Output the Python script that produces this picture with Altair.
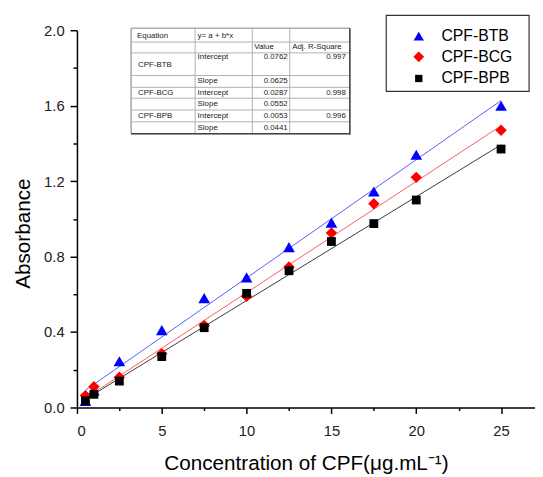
import altair as alt
import pandas as pd

# ---------------- data ----------------
conc = [0.5, 1, 2.5, 5, 7.5, 10, 12.5, 15, 17.5, 20, 25]
btb = [0.035, 0.09, 0.245, 0.41, 0.58, 0.69, 0.85, 0.98, 1.145, 1.34, 1.60]
bcg = [0.063, 0.11, 0.16, 0.285, 0.435, 0.59, 0.745, 0.925, 1.08, 1.22, 1.47]
bpb = [0.036, 0.07, 0.14, 0.27, 0.423, 0.605, 0.725, 0.88, 0.975, 1.10, 1.37]

series = ["CPF-BTB", "CPF-BCG", "CPF-BPB"]
colors = ["#0000ff", "#ff0000", "#000000"]
line_colors = ["#5a5aff", "#ff5a5a", "#3a3a3a"]
shapes = ["triangle-up", "diamond", "square"]
sizes = [140, 135, 80]

x_ticks = [0, 2.5, 5, 7.5, 10, 12.5, 15, 17.5, 20, 22.5, 25]
y_ticks = [0.0, 0.2, 0.4, 0.6, 0.8, 1.0, 1.2, 1.4, 1.6, 1.8, 2.0]

x_title = "Concentration of CPF(\u03bcg.mL\u207b\u00b9)"
y_title = "Absorbance"

# inset fit table (text)
table_text = ["Equation", "y= a + b*x", "Value", "Adj. R-Square",
              "CPF-BTB", "Intercept", "0.0762", "0.997",
              "Slope", "0.0625",
              "CPF-BCG", "Intercept", "0.0287", "0.998",
              "Slope", "0.0552",
              "CPF-BPB", "Intercept", "0.0053", "0.996",
              "Slope", "0.0441"]

# ---------------- layout (pixels, relative to plot area) ----------------
t_col_edges = [55, 120, 178, 216, 277]
t_row_edges = [-2, 12, 23, 46, 58, 69, 81, 93, 105]
t_x = [61, 122.5, 180, 218.5,
       62, 122.5, 214, 273,
       122.5, 214,
       62, 122.5, 214, 273,
       122.5, 214,
       62, 122.5, 214, 273,
       122.5, 214]
t_y = [6, 6, 17, 17,
       35.5, 27.5, 27.5, 27.5,
       51.5, 51.5,
       63.5, 63.5, 63.5, 63.5,
       75, 75,
       87, 87, 87, 87,
       99.5, 99.5]
t_align = ["left", "left", "left", "left",
           "left", "left", "right", "right",
           "left", "right",
           "left", "left", "right", "right",
           "left", "right",
           "left", "left", "right", "right",
           "left", "right"]

# legend box layout
lg_box = [314, -15, 459, 62]
lg_sym_x = 347
lg_txt_x = 370
lg_row_y = [6, 27, 49]
lg_sym_size = [110, 120, 55]

# ---------------- tables ----------------
rows = []
for s, vals in zip(series, [btb, bcg, bpb]):
    for c, v in zip(conc, vals):
        rows.append({"conc": c, "abs": v, "series": s})
df = pd.DataFrame(rows)

tdf = pd.DataFrame({"text": table_text, "px": t_x, "py": t_y, "al": t_align})
segs = []
for yy in t_row_edges:
    segs.append({"x": t_col_edges[0], "x2": t_col_edges[-1], "y": yy, "y2": yy})
for xx in t_col_edges:
    segs.append({"x": xx, "x2": xx, "y": t_row_edges[0], "y2": t_row_edges[-1]})
segdf = pd.DataFrame(segs)
boxdf = pd.DataFrame([{"x": t_col_edges[0], "x2": t_col_edges[-1],
                       "y": t_row_edges[0], "y2": t_row_edges[-1]}])
shadow = pd.DataFrame([
    {"x": t_col_edges[-1], "x2": t_col_edges[-1], "y": t_row_edges[0], "y2": t_row_edges[-1] + 1},
    {"x": t_col_edges[0], "x2": t_col_edges[-1], "y": t_row_edges[-1], "y2": t_row_edges[-1]},
])
lgbox = pd.DataFrame([{"x": lg_box[0], "y": lg_box[1], "x2": lg_box[2], "y2": lg_box[3]}])
lgdf = pd.DataFrame({"series": series, "sx": [lg_sym_x] * 3, "tx": [lg_txt_x] * 3,
                     "ly": lg_row_y, "sz": lg_sym_size})

xs = alt.Scale(domain=[0, 27], nice=False, zero=False)
ys = alt.Scale(domain=[0, 2.0], nice=False, zero=False)
col_scale = alt.Scale(domain=series, range=colors)
shp_scale = alt.Scale(domain=series, range=shapes)

x_major = "round(datum.value*2) % 10 == 0"
y_major = "round(datum.value*10) % 4 == 0"

x_axis = alt.Axis(values=x_ticks, title=x_title, grid=False, format="~g",
                  labelExpr=f"{x_major} ? datum.label : ''",
                  tickSize={"condition": {"test": x_major, "value": 6}, "value": 3},
                  labelPadding=10, titlePadding=15, titleFontSize=21)
y_axis = alt.Axis(values=y_ticks, title=y_title, grid=False, format=".1f",
                  labelExpr=f"{y_major} ? datum.label : ''",
                  tickSize={"condition": {"test": y_major, "value": 7}, "value": 4},
                  labelPadding=6, titleFontSize=21, titleAngle=270,
                  titleBaseline="alphabetic", titleX=-48, titleY=206,
                  titleAlign="center")

lines = alt.Chart(df).transform_regression(
    "conc", "abs", groupby=["series"], extent=[0.5, 25]
).transform_calculate(fit="datum.series").mark_line(strokeWidth=1, clip=True).encode(
    x=alt.X("conc:Q", scale=xs, axis=x_axis),
    y=alt.Y("abs:Q", scale=ys, axis=y_axis),
    stroke=alt.Stroke("fit:N", scale=alt.Scale(domain=series, range=line_colors), legend=None),
    detail="fit:N",
)

points = alt.Chart(df).transform_calculate(
    ord="indexof(['CPF-BTB','CPF-BCG','CPF-BPB'], datum.series)"
).mark_point(filled=True, opacity=1).encode(
    x=alt.X("conc:Q", scale=xs, axis=x_axis),
    y=alt.Y("abs:Q", scale=ys, axis=y_axis),
    color=alt.Color("series:N", scale=col_scale, legend=None),
    shape=alt.Shape("series:N", scale=shp_scale, legend=None),
    size=alt.Size("series:N", scale=alt.Scale(type="ordinal", domain=series, range=sizes), legend=None),
    order=alt.Order("ord:Q"),
)

px_rule = dict(x=alt.X("x:Q", scale=None, axis=None), x2="x2:Q",
               y=alt.Y("y:Q", scale=None, axis=None), y2="y2:Q")

tbl_bg = alt.Chart(boxdf).mark_rect(fill="white", stroke="#888888", strokeWidth=1).encode(**px_rule)
tbl_grid = alt.Chart(segdf).mark_rule(color="#b0b0b0", strokeWidth=1).encode(**px_rule)
tbl_shadow = alt.Chart(shadow).mark_rule(color="#444444", strokeWidth=1.5).encode(**px_rule)
tbl_text_l = alt.Chart(tdf).transform_filter("datum.al == 'left'").mark_text(
    fontSize=8, font="Liberation Sans", color="#222222", baseline="middle", align="left").encode(
    x=alt.X("px:Q", scale=None, axis=None),
    y=alt.Y("py:Q", scale=None, axis=None),
    text="text:N",
)
tbl_text_r = alt.Chart(tdf).transform_filter("datum.al == 'right'").mark_text(
    fontSize=8, font="Liberation Sans", color="#222222", baseline="middle", align="right").encode(
    x=alt.X("px:Q", scale=None, axis=None),
    y=alt.Y("py:Q", scale=None, axis=None),
    text="text:N",
)

# legend (drawn as marks)
lg_frame = alt.Chart(lgbox).mark_rect(fill="white", stroke="#333333", strokeWidth=1.2).encode(**px_rule)
lg_syms = alt.Chart(lgdf).mark_point(filled=True, opacity=1).encode(
    x=alt.X("sx:Q", scale=None, axis=None),
    y=alt.Y("ly:Q", scale=None, axis=None),
    color=alt.Color("series:N", scale=col_scale, legend=None),
    shape=alt.Shape("series:N", scale=shp_scale, legend=None),
    size=alt.Size("sz:Q", scale=None, legend=None),
)
lg_text = alt.Chart(lgdf).mark_text(fontSize=16, font="Liberation Sans", color="#000000",
                                    baseline="middle", align="left").encode(
    x=alt.X("tx:Q", scale=None, axis=None),
    y=alt.Y("ly:Q", scale=None, axis=None),
    text="series:N",
)

chart = alt.layer(
    lines, points, tbl_bg, tbl_grid, tbl_shadow, tbl_text_l, tbl_text_r,
    lg_frame, lg_syms, lg_text
).properties(
    width=465, height=383, autosize="none",
    padding={"left": 70, "top": 19, "right": 0, "bottom": 67},
).configure_view(stroke=None).configure_axis(
    labelFont="Liberation Sans", titleFont="Liberation Sans",
    labelFontSize=15, titleFontWeight="normal",
    labelColor="#222222", titleColor="#000000",
    domainColor="#000000", tickColor="#000000", domainWidth=1.5, tickWidth=1.5,
)

chart.save("out.html", embed_options={"renderer": "svg", "actions": False})
